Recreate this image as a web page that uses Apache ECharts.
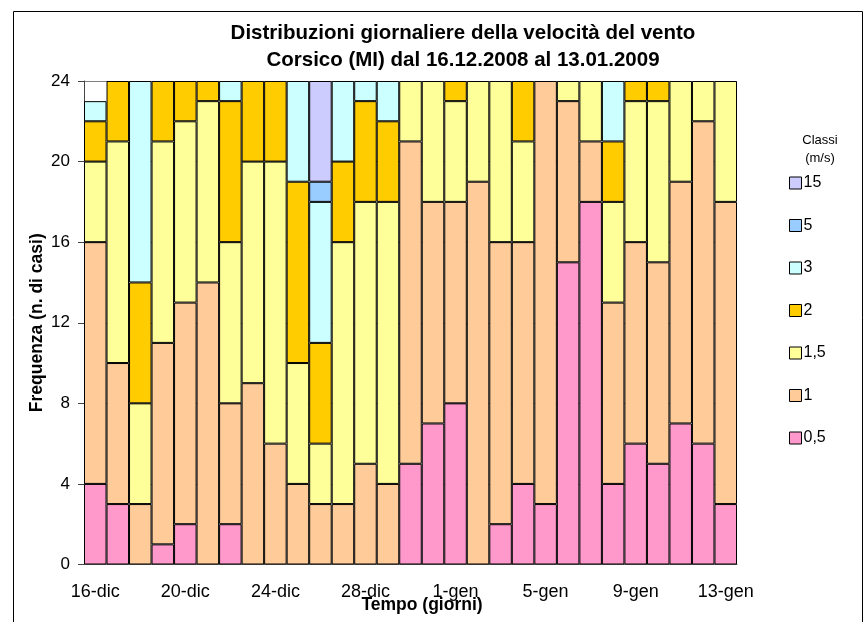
<!DOCTYPE html>
<html>
<head>
<meta charset="utf-8">
<script src="https://cdn.jsdelivr.net/npm/echarts@6/dist/echarts.min.js"></script>
<style>html,body{margin:0;padding:0;background:#fff}#c{width:865px;height:622px}</style>
</head>
<body>
<div id="c"></div>
<script>
var categories = ['16-dic','17-dic','18-dic','19-dic','20-dic','21-dic','22-dic','23-dic','24-dic','25-dic','26-dic','27-dic','28-dic','29-dic','30-dic','31-dic','1-gen','2-gen','3-gen','4-gen','5-gen','6-gen','7-gen','8-gen','9-gen','10-gen','11-gen','12-gen','13-gen'];
var classNames = ['0,5','1','1,5','2','3','5','15'];
var v05 = [4,3,0,1,2,0,2,0,0,0,0,0,0,0,5,7,8,0,2,4,3,15,18,4,6,5,7,6,3];
var v1  = [12,7,3,10,11,14,6,9,6,4,3,3,5,4,16,11,10,19,14,12,21,8,3,9,10,10,12,16,15];
var v15 = [4,11,5,10,9,9,8,11,14,6,3,13,13,14,3,6,5,5,8,5,0,1,3,5,7,8,5,2,6];
var v2  = [2,3,6,3,2,1,7,4,4,9,5,4,5,4,0,0,1,0,0,3,0,0,0,3,1,1,0,0,0];
var v3  = [1,0,10,0,0,0,1,0,0,5,7,4,1,2,0,0,0,0,0,0,0,0,0,3,0,0,0,0,0];
var v5  = [0,0,0,0,0,0,0,0,0,0,1,0,0,0,0,0,0,0,0,0,0,0,0,0,0,0,0,0,0];
var v15ms = [0,0,0,0,0,0,0,0,0,0,5,0,0,0,0,0,0,0,0,0,0,0,0,0,0,0,0,0,0];
var yTicks = {min:0, max:24, interval:4};

var colors = ['#FF99CC','#FFCC99','#FFFF99','#FFCC00','#CCFFFF','#99CCFF','#CCCCFF'];
var values = [v05, v1, v15, v2, v3, v5, v15ms];
var font = 'Liberation Sans, Arial, sans-serif';

var series = values.map(function(arr, i){
  return {
    name: classNames[i],
    type: 'bar',
    stack: 'tot',
    barCategoryGap: 0,
    barGap: 0,
    itemStyle: {color: colors[i], borderColor: '#000', borderWidth: 1},
    emphasis: {disabled: true},
    data: arr.map(function(v){ return v === 0 ? '-' : v; })
  };
});

var chart = echarts.init(document.getElementById('c'), null, {renderer:'canvas'});
chart.setOption({
  animation: false,
  backgroundColor: '#fff',
  title: {
    text: 'Distribuzioni giornaliere della velocità del vento\nCorsico (MI) dal 16.12.2008 al 13.01.2009',
    left: 458, textAlign: 'center', top: 15,
    textStyle: {fontFamily: font, fontSize: 20.5, fontWeight: 'bold', color: '#000', lineHeight: 27}
  },
  legend: {
    orient: 'vertical', left: 784, top: 170,
    data: classNames.slice().reverse(),
    itemWidth: 12, itemHeight: 12, itemGap: 26.5,
    icon: 'rect',
    textStyle: {fontFamily: font, fontSize: 16, color: '#000', padding: [0,0,0,-3]},
    itemStyle: {borderColor: '#000', borderWidth: 1},
    selectedMode: false
  },
  grid: {left: 84, right: 128, top: 81, bottom: 57.5, outerBoundsMode: 'none', containLabel: false},
  xAxis: {
    type: 'category',
    data: categories,
    boundaryGap: true,
    name: 'Tempo (giorni)',
    nameLocation: 'middle',
    nameGap: 32,
    nameMoveOverlap: false,
    nameTextStyle: {fontFamily: font, fontSize: 17.5, fontWeight: 'bold', color: '#000', padding: [0,0,0,23]},
    axisLine: {lineStyle: {color: '#666', width: 1}},
    axisTick: {interval: 3, length: 7, lineStyle: {color: '#666'}},
    axisLabel: {interval: 3, margin: 19, fontFamily: font, fontSize: 18, color: '#000'},
    splitLine: {show: false}
  },
  yAxis: {
    type: 'value',
    min: yTicks.min, max: yTicks.max, interval: yTicks.interval,
    name: 'Frequenza (n. di casi)',
    nameLocation: 'middle',
    nameGap: 38,
    nameMoveOverlap: false,
    nameTextStyle: {fontFamily: font, fontSize: 17.5, fontWeight: 'bold', color: '#000'},
    axisLine: {show: true, lineStyle: {color: '#444', width: 1}},
    axisTick: {show: true, length: 6, lineStyle: {color: '#444'}},
    axisLabel: {margin: 14, fontFamily: font, fontSize: 17, color: '#000'},
    splitLine: {show: true, lineStyle: {color: '#808080', width: 1}}
  },
  graphic: [
    {type: 'rect', shape: {x: 13.5, y: 11.5, width: 849, height: 700}, style: {fill: 'none', stroke: '#000', lineWidth: 1}, silent: true, z: -1},
    {type: 'text', x: 820, y: 140, style: {text: 'Classi', fontFamily: font, fontSize: 13, fill: '#000', align: 'center', verticalAlign: 'middle'}},
    {type: 'text', x: 820, y: 158, style: {text: '(m/s)', fontFamily: font, fontSize: 13, fill: '#000', align: 'center', verticalAlign: 'middle'}}
  ],
  series: series
});
</script>
</body>
</html>
